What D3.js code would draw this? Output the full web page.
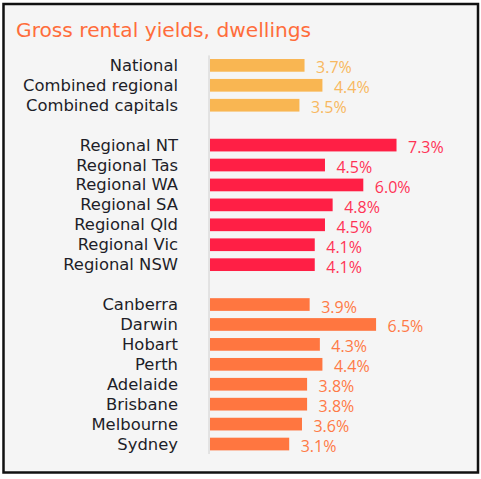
<!DOCTYPE html>
<html>
<head>
<meta charset="utf-8">
<script src="https://cdn.jsdelivr.net/npm/d3@7"></script>
<style>
  html, body { margin: 0; padding: 0; background: #ffffff; }
  svg { display: block; }
</style>
</head>
<body>
<svg id="chart" width="481" height="479"></svg>
<script>
const title = "Gross rental yields, dwellings";

const summaryCats = ["National", "Combined regional", "Combined capitals"];
const summaryVals = [3.7, 4.4, 3.5];

const regionalCats = ["Regional NT", "Regional Tas", "Regional WA", "Regional SA", "Regional Qld", "Regional Vic", "Regional NSW"];
const regionalVals = [7.3, 4.5, 6.0, 4.8, 4.5, 4.1, 4.1];

const capitalCats = ["Canberra", "Darwin", "Hobart", "Perth", "Adelaide", "Brisbane", "Melbourne", "Sydney"];
const capitalVals = [3.9, 6.5, 4.3, 4.4, 3.8, 3.8, 3.6, 3.1];

const groupColors = ["#f9b652", "#ff1f45", "#ff7640"];
const labelColors = ["#f8b860", "#ff3355", "#ff7a46"];

const groups = [
  { cats: summaryCats, vals: summaryVals },
  { cats: regionalCats, vals: regionalVals },
  { cats: capitalCats, vals: capitalVals }
];

const rows = [];
const slots = [];
groups.forEach((g, gi) => {
  if (gi > 0) slots.push("__gap" + gi);
  g.cats.forEach((c, i) => {
    slots.push(c);
    rows.push({ cat: c, val: g.vals[i], group: gi });
  });
});

const svg = d3.select("#chart");

svg.append("rect")
  .attr("x", 3.5).attr("y", 4).attr("width", 474.5).attr("height", 468.5)
  .attr("fill", "#f5f5f5").attr("stroke", "#111").attr("stroke-width", 2.5);

svg.append("text")
  .attr("x", 16).attr("y", 37)
  .attr("fill", "#ff6d3b")
  .attr("font-family", "'DejaVu Sans', sans-serif")
  .attr("font-size", 20.2)
  .text(title);

const x = d3.scaleLinear().domain([0, 8]).range([210, 414.4]);
const y = d3.scaleBand().domain(slots).range([55.4, 454]).paddingInner(0.363).paddingOuter(0.1815);

svg.append("line")
  .attr("x1", 209).attr("x2", 209)
  .attr("y1", y.range()[0]).attr("y2", y.range()[1])
  .attr("stroke", "#d0d0d0").attr("stroke-width", 1);

svg.append("g").selectAll("rect").data(rows).join("rect")
  .attr("x", x(0))
  .attr("y", d => y(d.cat))
  .attr("width", d => x(d.val) - x(0))
  .attr("height", y.bandwidth())
  .attr("fill", d => groupColors[d.group]);

svg.append("g").selectAll("text").data(rows).join("text")
  .attr("x", 178)
  .attr("y", d => y(d.cat) + y.bandwidth() / 2 + 5.5)
  .attr("text-anchor", "end")
  .attr("fill", "#1e1e28")
  .attr("font-family", "'DejaVu Sans', sans-serif")
  .attr("font-size", 16.4)
  .text(d => d.cat);

svg.append("g").selectAll("text").data(rows).join("text")
  .attr("x", d => x(d.val) + 11.5)
  .attr("y", d => y(d.cat) + y.bandwidth() / 2 + 8)
  .attr("fill", d => labelColors[d.group])
  .attr("font-family", "'Open Sans', sans-serif")
  .attr("font-size", 16)
  .text(d => d.val.toFixed(1) + "%");
</script>
</body>
</html>
